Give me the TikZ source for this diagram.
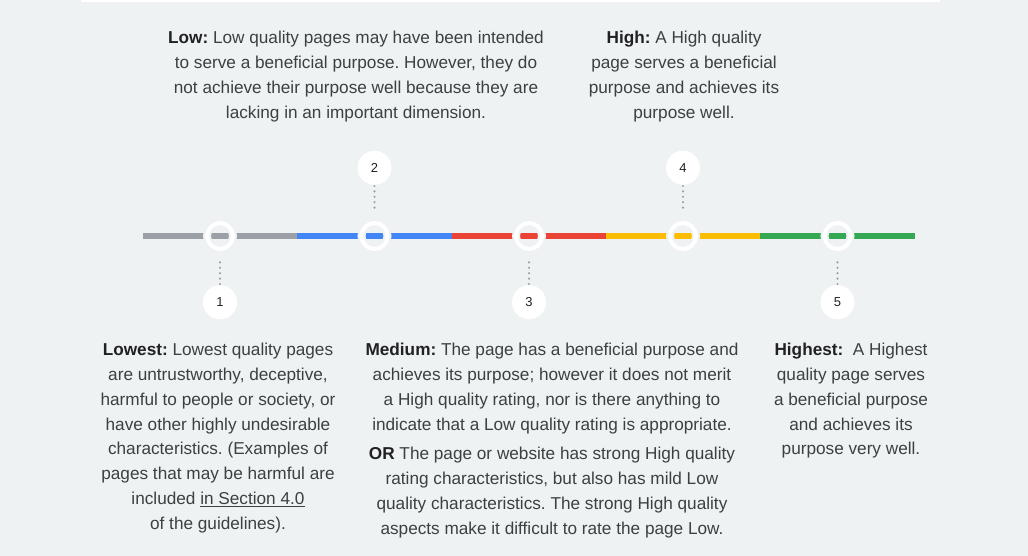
\documentclass[tikz,border=0pt]{standalone}
\usepackage{fontspec}
\setmainfont{Liberation Sans}
\frenchspacing
\usetikzlibrary{calc}
\usetikzlibrary{positioning}
\definecolor{bgcol}{RGB}{239,242,243}
\definecolor{txtcol}{RGB}{60,64,67}
\definecolor{boldcol}{RGB}{32,33,36}
\definecolor{gGrey}{RGB}{154,160,166}
\definecolor{gBlue}{RGB}{66,133,244}
\definecolor{gRed}{RGB}{234,67,53}
\definecolor{gYellow}{RGB}{251,188,4}
\definecolor{gGreen}{RGB}{52,168,83}
\newcommand{\lbl}[1]{{\color{boldcol}\bfseries #1}}
\tikzset{
	seg/.style={line width=6pt},
	ring/.style={
		circle,
		draw=bgcol, double=white,
		double distance=4pt, line width=2pt,
		minimum size=26pt,
		inner sep=0pt},
	numdot/.style={
		circle,
		fill=white,
		minimum size=34pt,
		inner sep=0pt,
		text=boldcol,
		font=\fontsize{13}{13}\selectfont},
	dots/.style={draw=gGrey, line width=2.4pt, line cap=round,
		dash pattern=on 0pt off 5.4pt, shorten <=1pt, shorten >=12pt},
	desc/.style={
		align=center,
		anchor=north,
		inner sep=0pt,
		text=txtcol,
		font=\fontsize{17.2}{24.8}\selectfont},
}

\begin{document}
\begin{tikzpicture}[x=1pt,y=-1pt]
	\fill[bgcol] (0,0) rectangle (1028,556);
	\useasboundingbox (0,0) rectangle (1028,556);
	\fill[white] (81,0) rectangle (940,2);
	% the scale
	\coordinate (s0) at (143,236);
	\coordinate (s1) at (297,236);
	\coordinate (s2) at (452,236);
	\coordinate (s3) at (606,236);
	\coordinate (s4) at (760,236);
	\coordinate (s5) at (915,236);
	\draw[seg, gGrey] (s0) -- (s1);
	\draw[seg, gBlue] (s1) -- (s2);
	\draw[seg, gRed] (s2) -- (s3);
	\draw[seg, gYellow] (s3) -- (s4);
	\draw[seg, gGreen] (s4) -- (s5);
	\node[ring] (r1) at ($(s0)!0.5!(s1)$) {};
	\node[ring] (r2) at ($(s1)!0.5!(s2)$) {};
	\node[ring] (r3) at ($(s2)!0.5!(s3)$) {};
	\node[ring] (r4) at ($(s3)!0.5!(s4)$) {};
	\node[ring] (r5) at ($(s4)!0.5!(s5)$) {};
	% numbers
	\node[numdot, below=49pt of r1.center] (n1) {1};
	\node[numdot, above=51pt of r2.center] (n2) {2};
	\node[numdot, below=49pt of r3.center] (n3) {3};
	\node[numdot, above=51pt of r4.center] (n4) {4};
	\node[numdot, below=49pt of r5.center] (n5) {5};
	\draw[dots] (n1) -- (r1);
	\draw[dots] (n2) -- (r2);
	\draw[dots] (n3) -- (r3);
	\draw[dots] (n4) -- (r4);
	\draw[dots] (n5) -- (r5);
	% descriptions
	\node[desc] (low) at (356,31) {\lbl{Low:} Low quality pages may have been intended\\
		to serve a beneficial purpose. However, they do\\
		not achieve their purpose well because they are\\
		lacking in an important dimension.};
	\node[desc] (high) at (684,31) {\lbl{High:} A High quality\\
		page serves a beneficial\\
		purpose and achieves its\\
		purpose well.};
	\node[desc] (lowest) at (218,343) {\lbl{Lowest:} Lowest quality pages\\
		are untrustworthy, deceptive,\\
		harmful to people or society, or\\
		have other highly undesirable\\
		characteristics. (Examples of\\
		pages that may be harmful are\\
		included \underline{in Section 4.0}\\
		of the guidelines).};
	\node[desc] (medium) at (552,343) {\lbl{Medium:} The page has a beneficial purpose and\\
		achieves its purpose; however it does not merit\\
		a High quality rating, nor is there anything to\\
		indicate that a Low quality rating is appropriate.\\[5pt]
		\lbl{OR} The page or website has strong High quality\\
		rating characteristics, but also has mild Low\\
		quality characteristics. The strong High quality\\
		aspects make it difficult to rate the page Low.};
	\node[desc] (highest) at (851,343) {\lbl{Highest:}\ \ A Highest\\
		quality page serves\\
		a beneficial purpose\\
		and achieves its\\
		purpose very well.};
\end{tikzpicture}
\end{document}
